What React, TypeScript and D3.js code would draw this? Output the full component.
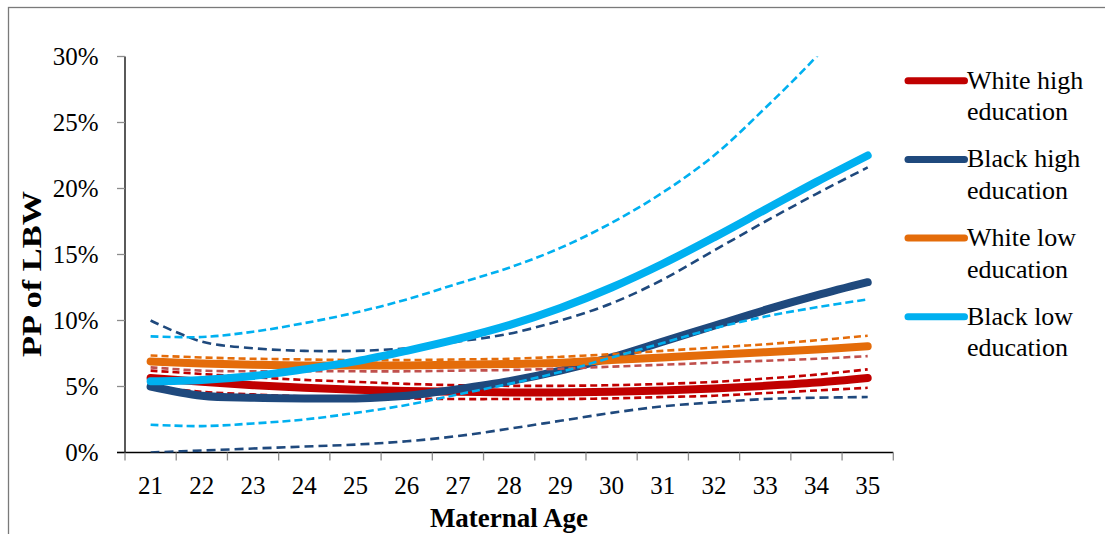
import React from "react";
import * as d3 from "d3";

// Maternal age categories (x axis)
const ages = [21, 22, 23, 24, 25, 26, 27, 28, 29, 30, 31, 32, 33, 34, 35];
const yTicks = [0, 5, 10, 15, 20, 25, 30];

// Predicted probability of LBW (%) by group, with dashed confidence bounds
const whiteHigh = [5.65, 5.35, 5.1, 4.9, 4.75, 4.65, 4.6, 4.55, 4.55, 4.6, 4.7, 4.85, 5.05, 5.3, 5.65];
const whiteHighUpper = [6.2, 5.95, 5.7, 5.5, 5.35, 5.2, 5.1, 5.05, 5.05, 5.1, 5.2, 5.35, 5.6, 5.9, 6.3];
const whiteHighLower = [5.0, 4.6, 4.4, 4.25, 4.15, 4.1, 4.05, 4.05, 4.05, 4.1, 4.2, 4.3, 4.5, 4.7, 4.9];

const blackHigh = [5.0, 4.3, 4.15, 4.1, 4.1, 4.3, 4.8, 5.4, 6.2, 7.2, 8.4, 9.6, 10.8, 11.9, 12.9];
const blackHighUpper = [10.0, 8.4, 7.9, 7.7, 7.7, 7.9, 8.4, 9.0, 10.0, 11.3, 13.1, 15.3, 17.5, 19.6, 21.6];
const blackHighLower = [0.0, 0.15, 0.3, 0.45, 0.6, 0.85, 1.25, 1.8, 2.4, 3.0, 3.5, 3.8, 4.05, 4.15, 4.2];

const whiteLow = [6.9, 6.75, 6.65, 6.6, 6.6, 6.6, 6.65, 6.7, 6.8, 7.0, 7.2, 7.4, 7.6, 7.8, 8.05];
const whiteLowUpper = [7.35, 7.2, 7.1, 7.05, 7.0, 7.0, 7.05, 7.1, 7.25, 7.45, 7.7, 7.95, 8.2, 8.5, 8.85];
const whiteLowLower = [6.45, 6.2, 6.15, 6.15, 6.15, 6.15, 6.2, 6.25, 6.35, 6.5, 6.65, 6.8, 6.95, 7.1, 7.3];

const blackLow = [5.4, 5.5, 5.8, 6.3, 6.9, 7.7, 8.6, 9.65, 10.95, 12.5, 14.3, 16.3, 18.4, 20.5, 22.5];
const blackLowUpper = [8.8, 8.75, 9.15, 9.8, 10.6, 11.6, 12.8, 14.0, 15.5, 17.4, 19.7, 22.5, 26.1, 30.0, 34.5];
const blackLowLower = [2.1, 2.0, 2.2, 2.5, 3.0, 3.6, 4.4, 5.2, 6.1, 7.2, 8.3, 9.4, 10.3, 11.0, 11.6];

const legendLabels = [
  ["White high", "education"],
  ["Black high", "education"],
  ["White low", "education"],
  ["Black low", "education"],
];

const RED = "#C00000";
const NAVY = "#1F497D";
const ORANGE = "#E46C0A";
const SKY = "#00B0F0";
const ROSE = "#C0504D";

const FONT = '"Liberation Serif", "Times New Roman", serif';

const groups = [
  { main: whiteHigh, upper: whiteHighUpper, lower: whiteHighLower, color: RED, upperColor: RED, lowerColor: RED, dash: "7 4" },
  { main: blackHigh, upper: blackHighUpper, lower: blackHighLower, color: NAVY, upperColor: NAVY, lowerColor: NAVY, dash: "9 5" },
  { main: whiteLow, upper: whiteLowUpper, lower: whiteLowLower, color: ORANGE, upperColor: ORANGE, lowerColor: ROSE, dash: "7 4" },
  { main: blackLow, upper: blackLowUpper, lower: blackLowLower, color: SKY, upperColor: SKY, lowerColor: SKY, dash: "8 4" },
];

export default function App() {
  const W = 1105;
  const H = 534;
  const left = 125;
  const right = 893.3;
  const top = 56.5;
  const bottom = 452.5;

  const x = d3.scaleBand<number>().domain(ages).range([left, right]).paddingInner(0).paddingOuter(0);
  const y = d3.scaleLinear().domain([0, 30]).range([bottom, top]);
  const cx = (a: number) => (x(a) as number) + x.bandwidth() / 2;

  const line = d3
    .line<number>()
    .x((_, i) => cx(ages[i]))
    .y((v) => y(v))
    .curve(d3.curveCatmullRom.alpha(0.5));

  const bandEdges = ages.map((a) => x(a) as number).concat([right]);

  return (
    <svg
      width={W}
      height={H}
      style={{ position: "absolute", left: 0, top: 0, background: "#fff" }}
      fontFamily={FONT}
    >
      <rect x={0} y={0} width={W} height={H} fill="#fff" />
      {/* chart frame */}
      <rect x={8.5} y={7.5} width={W + 20} height={H + 20} fill="none" stroke="#7a7a7a" strokeWidth={1.3} />

      <defs>
        <clipPath id="plot">
          <rect x={left} y={top} width={right - left} height={bottom - top} />
        </clipPath>
      </defs>

      {/* y axis */}
      <line x1={left} x2={left} y1={top} y2={bottom} stroke="#000" strokeWidth={1.3} />
      {yTicks.map((t) => (
        <g key={t}>
          <line x1={left - 8} x2={left} y1={y(t)} y2={y(t)} stroke="#8c8c8c" strokeWidth={1.3} />
          <text x={98.5} y={y(t) + 8.5} fontSize={25} textAnchor="end" fill="#000">
            {t + "%"}
          </text>
        </g>
      ))}

      {/* x axis */}
      <line x1={left - 8} x2={right} y1={bottom} y2={bottom} stroke="#000" strokeWidth={1.3} />
      {bandEdges.map((e, i) => (
        <line key={i} x1={e} x2={e} y1={bottom} y2={bottom + 8} stroke="#8c8c8c" strokeWidth={1.3} />
      ))}
      {ages.map((a) => (
        <text key={a} x={cx(a)} y={493.5} fontSize={25} textAnchor="middle" fill="#000">
          {a}
        </text>
      ))}

      {/* axis titles */}
      <text x={509} y={527} fontSize={27} fontWeight="bold" textAnchor="middle" fill="#000">
        Maternal Age
      </text>
      <text
        transform={`translate(40.5, 274) rotate(-90)`}
        fontSize={28}
        fontWeight="bold"
        textAnchor="middle"
        textLength={166}
        lengthAdjust="spacingAndGlyphs"
        fill="#000"
      >
        PP of LBW
      </text>

      {/* series */}
      <g clipPath="url(#plot)">
        {groups.map((g, i) => (
          <g key={i}>
            <path d={line(g.main) || ""} fill="none" stroke={g.color} strokeWidth={8} strokeLinecap="round" strokeLinejoin="round" />
            <path d={line(g.upper) || ""} fill="none" stroke={g.upperColor} strokeWidth={2.6} strokeDasharray={g.dash} />
            <path d={line(g.lower) || ""} fill="none" stroke={g.lowerColor} strokeWidth={2.6} strokeDasharray={g.dash} />
          </g>
        ))}
      </g>

      {/* legend */}
      {legendLabels.map((lbl, i) => {
        const ly = 80.7 + i * 78.7;
        return (
          <g key={i}>
            <line x1={908} x2={964.5} y1={ly} y2={ly} stroke={groups[i].color} strokeWidth={7} strokeLinecap="round" />
            <text x={967} y={ly + 7.8} fontSize={26} fill="#000">
              {lbl[0]}
            </text>
            <text x={967} y={ly + 39.5} fontSize={26} fill="#000">
              {lbl[1]}
            </text>
          </g>
        );
      })}
    </svg>
  );
}
